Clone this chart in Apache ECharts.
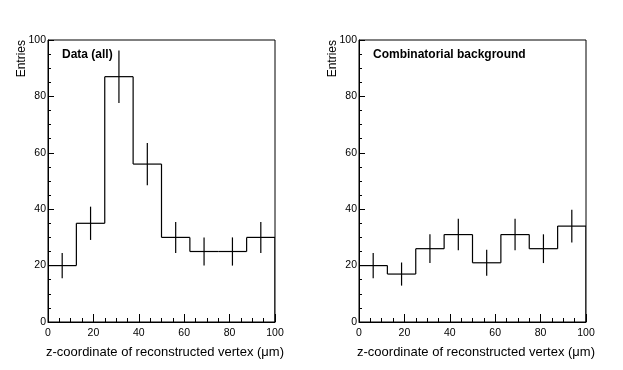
<!DOCTYPE html>
<html>
<head>
<meta charset="utf-8">
<script src="https://cdn.jsdelivr.net/npm/echarts@6/dist/echarts.min.js"></script>
<style>html,body{margin:0;padding:0;background:#fff}#c{width:623px;height:370px}</style>
</head>
<body>
<div id="c"></div>
<script>
var binLow = [0, 12.5, 25, 37.5, 50, 62.5, 75, 87.5];
var binHigh = [12.5, 25, 37.5, 50, 62.5, 75, 87.5, 100];
var dataAll = [20, 35, 87, 56, 30, 25, 25, 30];
var dataAllErr = [4.5, 5.9, 9.3, 7.5, 5.5, 5.0, 5.0, 5.5];
var bkg = [20, 17, 26, 31, 21, 31, 26, 34];
var bkgErr = [4.5, 4.1, 5.1, 5.6, 4.6, 5.6, 5.1, 5.8];
var xTicks = [0, 20, 40, 60, 80, 100];
var yTicks = [0, 20, 40, 60, 80, 100];
var panelTitles = ['Data (all)', 'Combinatorial background'];
var xTitle = 'z-coordinate of reconstructed vertex (\u03bcm)';
var yTitle = 'Entries';

var FONT = 'Liberation Sans, Arial, Helvetica, sans-serif';
var chart = echarts.init(document.getElementById('c'), null, {renderer: 'canvas'});

function buildRows(vals, errs) {
  var rows = [];
  for (var i = 0; i < vals.length; i++) {
    rows.push([binLow[i], binHigh[i], vals[i], errs[i], i > 0 ? vals[i - 1] : 0, i === vals.length - 1 ? 1 : 0]);
  }
  return rows;
}

function renderItem(params, api) {
  var x0 = api.value(0), x1 = api.value(1), v = api.value(2), e = api.value(3), pv = api.value(4), last = api.value(5);
  var pA = api.coord([x0, v]), pB = api.coord([x1, v]);
  var pPrev = api.coord([x0, pv]);
  var eTop = api.coord([(x0 + x1) / 2, v + e]);
  var eBot = api.coord([(x0 + x1) / 2, v - e]);
  var st = {stroke: '#000', lineWidth: 1.2};
  var children = [
    {type: 'line', shape: {x1: pA[0], y1: pA[1], x2: pB[0], y2: pB[1]}, style: st},
    {type: 'line', shape: {x1: pPrev[0], y1: pPrev[1], x2: pA[0], y2: pA[1]}, style: st},
    {type: 'line', shape: {x1: eTop[0], y1: eTop[1], x2: eBot[0], y2: eBot[1]}, style: st}
  ];
  if (last) {
    var pEnd = api.coord([x1, 0]);
    children.push({type: 'line', shape: {x1: pB[0], y1: pB[1], x2: pEnd[0], y2: pEnd[1]}, style: st});
  }
  return {type: 'group', children: children};
}

var grids = [
  {left: 48, top: 40, width: 227, height: 282},
  {left: 359, top: 40, width: 227, height: 282}
];

function xAxisCfg(idx) {
  return {
    type: 'value', gridIndex: idx, min: xTicks[0], max: xTicks[xTicks.length - 1], interval: 20,
    axisLine: {show: true, onZero: false, lineStyle: {color: '#000', width: 1}},
    axisTick: {show: true, inside: true, length: 8, lineStyle: {color: '#000'}},
    minorTick: {show: true, splitNumber: 4, length: 4, lineStyle: {color: '#000'}},
    splitLine: {show: false},
    axisLabel: {color: '#000', fontFamily: FONT, fontSize: 10.5, margin: 6}
  };
}
function yAxisCfg(idx) {
  return {
    type: 'value', gridIndex: idx, min: yTicks[0], max: yTicks[yTicks.length - 1], interval: 20,
    axisLine: {show: true, onZero: false, lineStyle: {color: '#000', width: 1}},
    axisTick: {show: true, inside: true, length: 6, lineStyle: {color: '#000'}},
    minorTick: {show: true, splitNumber: 4, length: 3, lineStyle: {color: '#000'}},
    splitLine: {show: false},
    axisLabel: {color: '#000', fontFamily: FONT, fontSize: 10.5, margin: 2}
  };
}

var option = {
  backgroundColor: '#fff',
  animation: false,
  grid: grids.map(function (g) { return Object.assign({show: true, borderColor: '#000', borderWidth: 1, backgroundColor: 'transparent'}, g); }),
  xAxis: [xAxisCfg(0), xAxisCfg(1)],
  yAxis: [yAxisCfg(0), yAxisCfg(1)],
  series: [
    {type: 'custom', xAxisIndex: 0, yAxisIndex: 0, renderItem: renderItem, data: buildRows(dataAll, dataAllErr), clip: true},
    {type: 'custom', xAxisIndex: 1, yAxisIndex: 1, renderItem: renderItem, data: buildRows(bkg, bkgErr), clip: true}
  ],
  graphic: [
    {type: 'text', left: 62, top: 49, style: {text: panelTitles[0], font: 'bold 12px ' + FONT, fill: '#000'}},
    {type: 'text', left: 373, top: 49, style: {text: panelTitles[1], font: 'bold 12px ' + FONT, fill: '#000'}},
    {type: 'text', x: 165, y: 352, style: {text: xTitle, font: '13px ' + FONT, fill: '#000', textAlign: 'center', textVerticalAlign: 'middle'}},
    {type: 'text', x: 476, y: 352, style: {text: xTitle, font: '13px ' + FONT, fill: '#000', textAlign: 'center', textVerticalAlign: 'middle'}},
    {type: 'text', x: 22, y: 40, rotation: Math.PI / 2, style: {text: yTitle, font: '12px ' + FONT, fill: '#000', textAlign: 'right', textVerticalAlign: 'middle'}},
    {type: 'text', x: 333, y: 40, rotation: Math.PI / 2, style: {text: yTitle, font: '12px ' + FONT, fill: '#000', textAlign: 'right', textVerticalAlign: 'middle'}}
  ]
};
chart.setOption(option);
</script>
</body>
</html>
